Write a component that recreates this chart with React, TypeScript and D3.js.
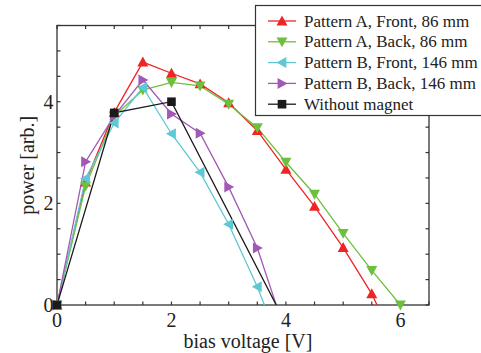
import React from "react";
import * as d3 from "d3";

const xFull = [0, 0.5, 1, 1.5, 2, 2.5, 3, 3.5, 4, 4.5, 5, 5.5, 6];
const xShort = [0, 0.5, 1, 1.5, 2, 2.5, 3, 3.5, 4];
const xBlack = [0, 1, 2, 4];

const redA = [0, 2.42, 3.79, 4.78, 4.56, 4.35, 3.98, 3.43, 2.67, 1.94, 1.13, 0.22, -0.98];
const greenA = [0, 2.34, 3.72, 4.23, 4.38, 4.31, 3.95, 3.49, 2.81, 2.18, 1.41, 0.68, 0];
const cyanB = [0, 2.49, 3.58, 4.28, 3.37, 2.61, 1.59, 0.36, -1.1];
const purpleB = [0, 2.82, 3.72, 4.43, 3.76, 3.38, 2.32, 1.12, -0.57];
const blackN = [0, 3.78, 4.0, -0.37];

const seriesNames = [
  "Pattern A, Front, 86 mm",
  "Pattern A, Back, 86 mm",
  "Pattern B, Front, 146 mm",
  "Pattern B, Back, 146 mm",
  "Without magnet",
];
const seriesColors = ["#ef2424", "#6fbf3f", "#5ec8d4", "#a259b4", "#1a1a1a"];
const seriesMarkers = ["up", "down", "left", "right", "square"];

const xTickVals = d3.range(0, 6.51, 0.5);
const yTickVals = d3.range(0, 5.51, 0.5);
const xLabelVals = [0, 2, 4, 6];
const yLabelVals = [0, 2, 4];

const W = 481, H = 353;
const L = 57, R = 429, T = 25.5, B = 305;
const FONT = "Liberation Serif, Tinos, Times New Roman, serif";

function Marker({ kind, x, y, color }: { kind: string; x: number; y: number; color: string }) {
  const s = 5.5;
  if (kind === "square") {
    return <rect x={x - 4.3} y={y - 4.3} width={8.6} height={8.6} fill={color} />;
  }
  let pts: [number, number][] = [];
  if (kind === "up") pts = [[x, y - s], [x - s, y + s * 0.8], [x + s, y + s * 0.8]];
  if (kind === "down") pts = [[x, y + s], [x - s, y - s * 0.8], [x + s, y - s * 0.8]];
  if (kind === "left") pts = [[x - s, y], [x + s * 0.8, y - s], [x + s * 0.8, y + s]];
  if (kind === "right") pts = [[x + s, y], [x - s * 0.8, y - s], [x - s * 0.8, y + s]];
  return <polygon points={pts.map((p) => p.join(",")).join(" ")} fill={color} />;
}

export default function App() {
  const x = d3.scaleLinear().domain([0, 6.5]).range([L, R]);
  const y = d3.scaleLinear().domain([0, 5.5]).range([B, T]);
  const series = [
    { xs: xFull, ys: redA },
    { xs: xFull, ys: greenA },
    { xs: xShort, ys: cyanB },
    { xs: xShort, ys: purpleB },
    { xs: xBlack, ys: blackN },
  ];
  const line = d3
    .line<[number, number]>()
    .x((d) => x(d[0]))
    .y((d) => y(d[1]));
  const axisColor = "#333";
  const tl = 3.5;
  return (
    <svg width={W} height={H} style={{ position: "absolute", left: 0, top: 0, background: "#fff" }}>
      <defs>
        <clipPath id="plotclip">
          <rect x={L} y={T} width={R - L} height={B - T} />
        </clipPath>
      </defs>
      <rect x={L} y={T} width={R - L} height={B - T} fill="none" stroke={axisColor} strokeWidth={1.3} />
      {xTickVals.map((v) => (
        <g key={"xt" + v}>
          <line x1={x(v)} x2={x(v)} y1={B} y2={B - tl} stroke={axisColor} strokeWidth={1.2} />
          <line x1={x(v)} x2={x(v)} y1={T} y2={T + tl} stroke={axisColor} strokeWidth={1.2} />
        </g>
      ))}
      {yTickVals.map((v) => (
        <g key={"yt" + v}>
          <line x1={L} x2={L + tl} y1={y(v)} y2={y(v)} stroke={axisColor} strokeWidth={1.2} />
          <line x1={R} x2={R - tl} y1={y(v)} y2={y(v)} stroke={axisColor} strokeWidth={1.2} />
        </g>
      ))}
      {series.map((s, i) => (
        <path
          key={"l" + i}
          d={line(s.xs.map((xv, j) => [xv, s.ys[j]] as [number, number])) || ""}
          fill="none"
          stroke={seriesColors[i]}
          strokeWidth={1.3}
          clipPath="url(#plotclip)"
        />
      ))}
      {series.map((s, i) => (
        <g key={"m" + i}>
          {s.xs.map((xv, j) =>
            s.ys[j] >= 0 && xv <= 6.5 ? (
              <Marker key={j} kind={seriesMarkers[i]} x={x(xv)} y={y(s.ys[j])} color={seriesColors[i]} />
            ) : null
          )}
        </g>
      ))}
      {xLabelVals.map((v) => (
        <text key={"xl" + v} x={x(v)} y={B + 22} textAnchor="middle" fontFamily={FONT} fontSize={20} fill="#222">
          {v}
        </text>
      ))}
      {yLabelVals.map((v) => (
        <text key={"yl" + v} x={L - 3.5} y={y(v) + 7} textAnchor="end" fontFamily={FONT} fontSize={20} fill="#222">
          {v}
        </text>
      ))}
      <text x={248} y={348} textAnchor="middle" fontFamily={FONT} fontSize={20} fill="#222">
        bias voltage [V]
      </text>
      <text
        transform={`translate(34,${(T + B) / 2}) rotate(-90)`}
        textAnchor="middle"
        fontFamily={FONT}
        fontSize={20}
        fill="#222"
      >
        power [arb.]
      </text>
      <rect x={255.5} y={5.5} width={240} height={110} fill="#fff" stroke={axisColor} strokeWidth={1.2} />
      {seriesNames.map((n, i) => {
        const cy = 21 + i * 20.8;
        return (
          <g key={"lg" + i}>
            <line x1={268} x2={296} y1={cy} y2={cy} stroke={seriesColors[i]} strokeWidth={1.3} />
            <Marker kind={seriesMarkers[i]} x={282} y={cy} color={seriesColors[i]} />
            <text x={304} y={cy + 5.5} fontFamily={FONT} fontSize={17} fill="#222">
              {n}
            </text>
          </g>
        );
      })}
    </svg>
  );
}
